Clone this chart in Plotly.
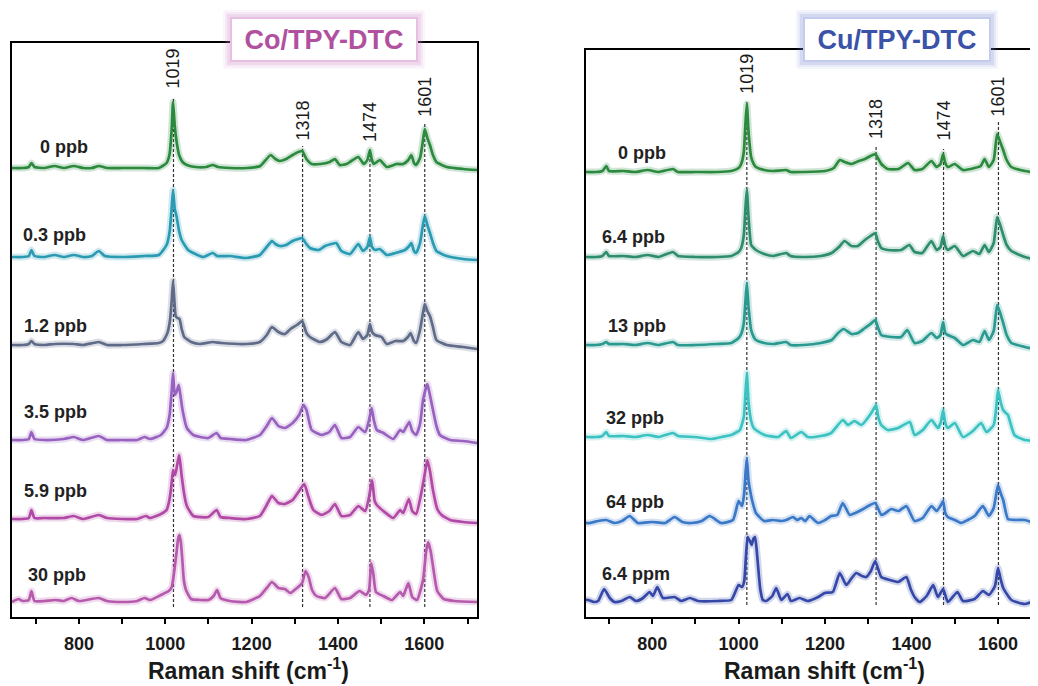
import plotly.graph_objects as go

# ---------------- data (wavenumber cm-1, relative intensity) ----------------
co_labels = ["0 ppb", "0.3 ppb", "1.2 ppb", "3.5 ppb", "5.9 ppb", "30 ppb"]
cu_labels = ["0 ppb", "6.4 ppb", "13 ppb", "32 ppb", "64 ppb", "6.4 ppm"]
peak_labels = [1019, 1318, 1474, 1601]
tick_vals = [800, 1000, 1200, 1400, 1600]

co_0ppb = [(645,0),(670,0),(684,1),(690,5),(697,1),(720,0),(744,2),(765,0),(788,2),(810,0),(830,0),(846,2),(865,0),(900,0),(950,0),(985,0),(1003,5),(1010,14),(1015,40),(1018,66),(1022,42),(1026,27),(1032,13),(1040,6),(1050,3),(1070,1),(1095,1),(1110,3),(1122,1),(1150,0),(1190,0),(1220,2),(1244,13),(1255,9),(1265,7),(1280,9),(1295,13),(1308,16),(1317,17),(1327,9),(1339,4),(1359,4),(1381,6),(1393,9),(1404,3),(1420,4),(1431,7),(1447,11),(1460,4),(1468,8),(1474,18),(1478,9),(1483,4),(1490,6),(1497,8),(1513,1),(1536,4),(1551,4),(1563,8),(1570,13),(1576,5),(1581,3),(1590,10),(1596,25),(1601,39),(1607,30),(1613,23),(1620,13),(1628,6),(1652,1),(1690,-1),(1722,-2)]
co_03ppb = [(645,0),(670,0),(684,1),(690,7),(697,1),(720,0),(744,2),(765,0),(788,2),(810,0),(830,1),(846,6),(860,1),(900,0),(950,1),(985,2),(1003,12),(1010,25),(1015,50),(1018,67),(1022,48),(1026,41),(1032,26),(1038,17),(1053,7),(1070,3),(1088,0),(1110,4),(1120,1),(1150,1),(1188,-1),(1219,2),(1235,10),(1247,16),(1255,13),(1265,11),(1280,12),(1295,16),(1308,18),(1317,19),(1325,14),(1335,9),(1355,7),(1370,11),(1385,13),(1396,14),(1408,6),(1428,3),(1447,13),(1458,6),(1468,10),(1474,20),(1479,10),(1486,7),(1497,8),(1513,2),(1533,4),(1555,7),(1565,11),(1570,14),(1576,6),(1581,4),(1590,14),(1596,30),(1601,41),(1607,32),(1613,24),(1620,14),(1628,6),(1652,1),(1690,-2),(1722,-3)]
co_12ppb = [(645,0),(670,0),(684,1),(690,4),(697,1),(720,0),(744,1),(788,1),(810,0),(846,3),(865,0),(900,0),(950,1),(985,2),(995,4),(1005,12),(1011,25),(1015,45),(1018,64),(1021,45),(1024,29),(1028,27),(1033,26),(1038,16),(1044,8),(1060,3),(1080,1),(1110,3),(1130,2),(1188,1),(1219,3),(1235,10),(1247,18),(1262,13),(1277,11),(1290,16),(1305,20),(1317,24),(1327,12),(1335,8),(1358,3),(1375,6),(1393,13),(1408,3),(1428,0),(1447,13),(1458,6),(1468,10),(1474,21),(1479,13),(1486,10),(1501,8),(1513,1),(1533,4),(1551,4),(1562,8),(1568,12),(1576,4),(1581,2),(1590,15),(1596,30),(1601,41),(1607,34),(1613,29),(1620,18),(1628,5),(1652,0),(1690,-2),(1722,-4)]
co_35ppb = [(645,0),(670,0),(684,1),(690,8),(697,1),(720,0),(765,1),(788,3),(810,0),(846,4),(865,0),(900,0),(935,0),(952,3),(965,1),(990,5),(1003,12),(1010,25),(1015,50),(1018,67),(1022,45),(1026,48),(1031,55),(1035,45),(1040,30),(1050,12),(1065,5),(1081,3),(1100,2),(1119,7),(1128,2),(1150,1),(1188,0),(1219,5),(1235,14),(1247,22),(1262,14),(1277,12),(1295,17),(1310,25),(1320,35),(1327,30),(1339,10),(1362,5),(1380,8),(1393,15),(1408,2),(1428,3),(1447,13),(1463,8),(1472,20),(1478,32),(1483,20),(1490,10),(1505,7),(1528,1),(1544,10),(1551,8),(1565,18),(1572,9),(1581,5),(1590,16),(1597,40),(1607,56),(1613,45),(1620,30),(1628,14),(1636,5),(1660,0),(1690,-1),(1722,-3)]
co_59ppb = [(645,0),(670,0),(684,1),(690,9),(697,1),(720,1),(765,1),(788,3),(810,0),(846,4),(865,1),(900,0),(935,0),(955,3),(965,1),(990,5),(1003,9),(1010,20),(1014,33),(1018,49),(1021,46),(1023,44),(1028,55),(1032,64),(1035,55),(1038,43),(1045,22),(1050,13),(1065,3),(1100,2),(1119,9),(1128,2),(1150,1),(1188,0),(1219,3),(1235,14),(1247,23),(1262,16),(1277,15),(1295,19),(1310,28),(1322,35),(1331,23),(1343,9),(1362,4),(1380,8),(1393,15),(1408,3),(1428,4),(1447,13),(1463,8),(1472,22),(1479,39),(1485,18),(1490,14),(1505,8),(1528,1),(1544,9),(1551,6),(1564,20),(1572,8),(1581,5),(1593,26),(1601,45),(1607,59),(1613,48),(1620,29),(1630,10),(1640,4),(1660,-1),(1690,-3),(1722,-4)]
co_30ppb = [(645,0),(660,3),(670,1),(684,2),(690,11),(697,1),(720,1),(745,2),(765,1),(783,4),(800,1),(846,4),(865,1),(900,0),(935,1),(952,4),(965,2),(990,7),(1008,11),(1015,15),(1018,22),(1022,35),(1026,49),(1030,64),(1033,67),(1036,60),(1039,45),(1043,22),(1048,12),(1060,3),(1080,2),(1100,2),(1112,6),(1120,12),(1128,4),(1150,1),(1188,0),(1219,6),(1235,14),(1247,20),(1262,14),(1277,13),(1290,9),(1305,14),(1317,19),(1325,31),(1332,25),(1340,12),(1350,6),(1370,4),(1393,14),(1408,3),(1428,4),(1450,11),(1465,7),(1472,12),(1477,39),(1482,28),(1488,10),(1505,6),(1525,2),(1544,10),(1551,6),(1563,19),(1572,5),(1583,2),(1597,22),(1604,50),(1609,60),(1615,50),(1620,36),(1630,11),(1645,3),(1670,1),(1722,0)]

cu_0ppb = [(647,0),(670,0),(685,1),(694,6),(700,1),(733,1),(760,0),(790,2),(815,0),(848,3),(860,0),(900,0),(950,0),(983,1),(1000,4),(1006,8),(1012,20),(1016,50),(1019,68),(1023,40),(1029,15),(1035,8),(1040,5),(1059,2),(1080,1),(1110,2),(1120,0),(1150,0),(1200,1),(1220,4),(1234,12),(1245,10),(1261,8),(1278,11),(1292,13),(1305,16),(1316,18),(1322,14),(1330,8),(1345,3),(1370,3),(1392,9),(1407,2),(1425,3),(1446,11),(1458,5),(1467,8),(1473,18),(1478,9),(1484,5),(1500,8),(1519,2),(1546,4),(1560,6),(1569,13),(1579,5),(1590,12),(1598,38),(1605,30),(1612,22),(1620,12),(1631,5),(1662,1),(1693,-1)]
cu_64ppb_low = [(647,0),(670,0),(685,1),(694,5),(700,1),(733,1),(760,0),(790,2),(815,0),(848,5),(860,1),(900,0),(950,0),(983,1),(1000,5),(1006,9),(1012,22),(1016,50),(1019,67),(1023,40),(1029,12),(1035,9),(1040,7),(1059,3),(1080,1),(1110,4),(1120,1),(1150,0),(1190,1),(1215,4),(1232,10),(1245,16),(1261,11),(1276,11),(1292,17),(1305,21),(1316,24),(1322,16),(1330,9),(1345,7),(1376,7),(1395,12),(1407,5),(1425,4),(1446,16),(1458,7),(1467,10),(1473,21),(1478,11),(1484,7),(1500,11),(1519,1),(1542,6),(1557,3),(1569,12),(1579,5),(1590,14),(1598,40),(1605,32),(1612,22),(1620,12),(1631,6),(1662,0),(1693,-3)]
cu_13ppb = [(647,0),(670,0),(685,1),(694,3),(700,1),(733,1),(760,0),(790,2),(815,0),(848,3),(860,0),(900,0),(950,1),(983,2),(1000,7),(1006,11),(1012,22),(1016,45),(1019,62),(1023,38),(1029,15),(1035,8),(1040,5),(1059,2),(1080,1),(1110,3),(1120,0),(1150,0),(1190,2),(1215,5),(1230,12),(1243,16),(1261,11),(1276,12),(1292,17),(1305,21),(1316,25),(1322,18),(1330,10),(1353,8),(1376,8),(1390,15),(1407,2),(1425,4),(1446,12),(1458,7),(1467,10),(1473,23),(1478,12),(1484,10),(1500,7),(1519,0),(1542,5),(1557,3),(1569,14),(1579,5),(1590,14),(1598,40),(1605,32),(1612,22),(1620,10),(1631,2),(1662,-2),(1693,-5)]
cu_32ppb = [(647,0),(670,0),(685,1),(694,5),(700,1),(733,1),(760,0),(790,2),(815,0),(848,4),(860,1),(900,0),(937,-2),(960,0),(983,2),(996,5),(1003,7),(1012,20),(1016,45),(1019,64),(1023,35),(1029,16),(1035,9),(1040,7),(1060,2),(1091,0),(1110,6),(1121,-1),(1145,5),(1160,0),(1190,1),(1214,4),(1241,17),(1253,12),(1268,16),(1284,12),(1307,24),(1318,32),(1323,20),(1330,12),(1345,7),(1369,9),(1396,15),(1407,2),(1426,7),(1446,17),(1461,9),(1468,15),(1473,27),(1478,14),(1484,9),(1500,14),(1519,0),(1542,6),(1561,14),(1573,5),(1590,12),(1596,30),(1600,47),(1606,35),(1612,27),(1618,24),(1623,22),(1638,2),(1662,-3),(1693,-4)]
cu_64ppb = [(647,0),(656,0),(675,2),(694,3),(713,0),(730,2),(748,7),(767,0),(800,1),(830,0),(852,6),(870,1),(891,0),(915,2),(933,7),(960,0),(987,3),(1000,22),(1008,17),(1013,30),(1016,50),(1019,65),(1023,42),(1029,27),(1034,18),(1040,10),(1059,2),(1080,3),(1099,2),(1110,3),(1126,6),(1135,3),(1145,5),(1154,2),(1164,7),(1184,0),(1200,3),(1214,7),(1228,8),(1241,20),(1257,8),(1270,10),(1284,13),(1300,17),(1316,20),(1330,8),(1340,10),(1353,14),(1370,12),(1388,17),(1407,2),(1426,5),(1446,17),(1458,12),(1468,18),(1473,22),(1478,10),(1484,6),(1500,3),(1515,0),(1530,3),(1546,7),(1565,17),(1579,7),(1590,15),(1600,38),(1606,30),(1612,23),(1623,4),(1640,3),(1662,3),(1693,-2)]
cu_64ppm = [(647,1),(652,1),(665,-1),(675,0),(689,12),(702,3),(713,-1),(729,0),(748,4),(763,0),(779,3),(794,9),(802,5),(812,14),(825,3),(852,4),(867,0),(887,3),(906,0),(952,0),(983,1),(1000,16),(1008,14),(1013,20),(1017,45),(1021,64),(1026,60),(1030,56),(1034,62),(1038,64),(1042,50),(1046,30),(1050,12),(1056,1),(1064,0),(1078,5),(1087,13),(1099,1),(1113,7),(1121,0),(1141,3),(1160,0),(1184,4),(1199,8),(1218,9),(1234,28),(1249,16),(1260,22),(1272,28),(1285,25),(1295,24),(1306,30),(1316,40),(1330,24),(1350,21),(1369,19),(1388,24),(1398,12),(1407,4),(1419,-1),(1435,5),(1450,16),(1461,4),(1473,12),(1484,-1),(1506,9),(1519,0),(1546,2),(1565,10),(1579,6),(1593,15),(1600,33),(1606,22),(1612,13),(1631,1),(1662,-3),(1689,1)]

co_series = [co_0ppb, co_03ppb, co_12ppb, co_35ppb, co_59ppb, co_30ppb]
cu_series = [cu_0ppb, cu_64ppb_low, cu_13ppb, cu_32ppb, cu_64ppb, cu_64ppm]

# ---------------- styles / layout ----------------
co_colors = ["#2b8a3e", "#2a9bb3", "#5f6b88", "#9a62c0", "#b04aa6", "#b65aae"]
cu_colors = ["#2b8a3e", "#2e8d6c", "#2a9a90", "#3dc2c2", "#3a78c8", "#3548a8"]
co_offsets = [449, 360, 272, 177, 98, 15]
cu_offsets = [445, 360, 272, 180, 94, 16]
co_label_pos = [(707, 470), (668, 382), (670, 291), (670, 205), (670, 126), (680, 42)]
cu_label_pos = [(719, 464), (682, 380), (696, 291), (691, 199), (691, 115), (682, 43)]
co_peak_lab_y = [528, 475, 474, 499]
co_peak_line_top = [520, 471, 468, 495]
cu_peak_lab_y = [522, 477, 475, 500]
cu_peak_line_top = [517, 471, 468, 495]

# the page body adds an 8px margin, so the figure is 8px smaller than the window
OFF = 8
W, H = 1038 - OFF, 686 - OFF
FONT = "Arial, Liberation Sans, sans-serif"


def px(x):
    return (x - OFF) / W


def py(y):
    return (H - (y - OFF)) / H


def rgba(hexc, a):
    h = hexc.lstrip("#")
    return "rgba(%d,%d,%d,%.2f)" % (int(h[0:2], 16), int(h[2:4], 16), int(h[4:6], 16), a)


fig = go.Figure()


def add_panel(series, colors, offsets, xa, ya):
    for s, c, off in zip(series, colors, offsets):
        xs = [p[0] for p in s]
        ys = [p[1] + off for p in s]
        fig.add_trace(go.Scatter(x=xs, y=ys, mode="lines", xaxis=xa, yaxis=ya,
                                 line=dict(color=rgba(c, 0.22), width=7, shape="spline", smoothing=0.5),
                                 hoverinfo="skip", showlegend=False))
        fig.add_trace(go.Scatter(x=xs, y=ys, mode="lines", xaxis=xa, yaxis=ya,
                                 line=dict(color=c, width=2.7, shape="spline", smoothing=0.5),
                                 showlegend=False))


add_panel(co_series, co_colors, co_offsets, "x", "y")
add_panel(cu_series, cu_colors, cu_offsets, "x2", "y2")

shapes = []
annotations = []

for xr, yr, tops, labys, bottom in [("x", "y", co_peak_line_top, co_peak_lab_y, 10),
                                    ("x2", "y2", cu_peak_line_top, cu_peak_lab_y, 12)]:
    for pk, top, ly in zip(peak_labels, tops, labys):
        shapes.append(dict(type="line", xref=xr, yref=yr, x0=pk, x1=pk, y0=bottom, y1=top,
                           line=dict(color="#333333", width=1.2, dash="3px,2px"), layer="below"))
        annotations.append(dict(xref=xr, yref=yr, x=pk, y=ly, text=str(pk), textangle=-90,
                                showarrow=False, xanchor="center", yanchor="bottom",
                                font=dict(family=FONT, size=18, color="#1a1a1a"), borderpad=0))

for labs, pos, xr, yr in [(co_labels, co_label_pos, "x", "y"), (cu_labels, cu_label_pos, "x2", "y2")]:
    for t, (lx, ly) in zip(labs, pos):
        annotations.append(dict(xref=xr, yref=yr, x=lx, y=ly, text="<b>%s</b>" % t, showarrow=False,
                                xanchor="left", yanchor="middle", borderpad=0,
                                font=dict(family=FONT, size=18, color="#222222")))

# axis titles
for cx in [248, 824]:
    annotations.append(dict(xref="paper", yref="paper", x=px(cx), y=py(685),
                            text="<b>Raman shift (cm<sup>-1</sup>)</b>", showarrow=False,
                            xanchor="center", yanchor="bottom", borderpad=0,
                            font=dict(family=FONT, size=23, color="#1a1a1a")))

# title boxes with glow
for cx, text, tcol, bcol, gcol in [(324, "Co/TPY-DTC", "#b0509f", "#e6bfe2", "#c77dc0"),
                                   (897, "Cu/TPY-DTC", "#3a52a8", "#c3cbee", "#6f80d0")]:
    x0, x1, y0, y1 = cx - 94, cx + 94, 17, 62
    for g, a in [(7, 0.07), (5, 0.10), (3, 0.16)]:
        shapes.append(dict(type="rect", xref="paper", yref="paper",
                           x0=px(x0 - g), x1=px(x1 + g), y0=py(y1 + g), y1=py(y0 - g),
                           line=dict(width=0), fillcolor=rgba(gcol, a), layer="above"))
    annotations.append(dict(xref="paper", yref="paper", x=px(cx), y=py(39.5),
                            text="<b>%s</b>" % text, showarrow=False, xanchor="center", yanchor="middle",
                            width=184, height=41, bgcolor="white", bordercolor=bcol, borderwidth=2,
                            borderpad=0, font=dict(family=FONT, size=27, color=tcol)))

axis_common = dict(showline=True, linecolor="black", linewidth=2, showgrid=False, zeroline=False)
xcommon = dict(axis_common, tickvals=tick_vals, ticks="outside", ticklen=5, tickwidth=2,
               tickcolor="black", ticklabelstandoff=4,
               tickfont=dict(family=FONT, size=18, color="#1a1a1a", weight="bold"),
               minor=dict(dtick=100, tick0=0, ticks="outside", ticklen=5, tickwidth=2, tickcolor="black"))

fig.update_layout(
    width=W, height=H,
    margin=dict(l=0, r=0, t=0, b=0),
    paper_bgcolor="white", plot_bgcolor="white",
    font=dict(family=FONT),
    xaxis=dict(xcommon, domain=[px(12), px(477)], range=[645, 1722], mirror=True, anchor="y"),
    yaxis=dict(axis_common, domain=[py(617), py(43)], range=[0, 574], mirror=True,
               showticklabels=False, ticks="", anchor="x"),
    xaxis2=dict(xcommon, domain=[px(586), 1.0], range=[647, 1692.5], mirror=True, anchor="y2"),
    yaxis2=dict(axis_common, domain=[py(617), py(50)], range=[0, 567], mirror=False,
                showticklabels=False, ticks="", anchor="x2"),
    shapes=shapes,
    annotations=annotations,
)

fig.write_html("out.html")
